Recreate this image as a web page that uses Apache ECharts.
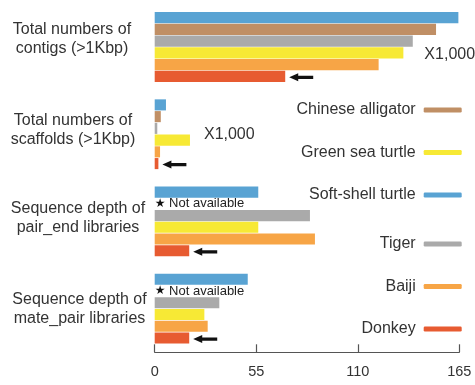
<!DOCTYPE html>
<html>
<head>
<meta charset="utf-8">
<script src="https://cdn.jsdelivr.net/npm/echarts@6/dist/echarts.min.js"></script>
<style>
  html, body { margin: 0; padding: 0; background: #ffffff; }
  #chart { width: 475px; height: 385px; }
</style>
</head>
<body>
<div id="chart"></div>
<script>
// Genome assembly statistics, top to bottom
const categories = [
  'Total numbers of\ncontigs (>1Kbp)',
  'Total numbers of\nscaffolds (>1Kbp)',
  'Sequence depth of\npair_end libraries',
  'Sequence depth of\nmate_pair libraries'
];

// Species, in the order the bars are stacked inside each group
const species = ['Soft-shell turtle', 'Chinese alligator', 'Tiger', 'Green sea turtle', 'Baiji', 'Donkey'];

// Values per species (counts in thousands for the first two rows, depth for the last two)
const softShellTurtle  = [164.5, 6.1, 56.1, 50.4];
const chineseAlligator = [152.4, 3.3, null, null];
const tiger            = [139.8, 1.4, 84.1, 35.0];
const greenSeaTurtle   = [134.7, 19.1, 56.1, 26.9];
const baiji            = [121.3, 2.9, 86.8, 28.7];
const donkey           = [70.7, 2.0, 18.7, 18.7];

const xTicks = [0, 55, 110, 165];
const legendUpper = ['Chinese alligator', 'Green sea turtle', 'Soft-shell turtle'];
const legendLower = ['Tiger', 'Baiji', 'Donkey'];
const scaleNote = 'X1,000';
const missingNote = 'Not available';

const colors = {
  'Soft-shell turtle': '#59a3d3',
  'Chinese alligator': '#c08f65',
  'Tiger': '#aaaaaa',
  'Green sea turtle': '#f7e935',
  'Baiji': '#f7a546',
  'Donkey': '#e75b31'
};

const seriesValues = [softShellTurtle, chineseAlligator, tiger, greenSeaTurtle, baiji, donkey];

// row titles: horizontal centre and vertical nudge relative to each band centre
const titlePlacement = [[72, -7.5], [73, -4.5], [78, -3], [79.5, 0.5]];

const font = 'Liberation Sans, Arial, sans-serif';

// left-pointing arrow used to flag the donkey bars
const arrowPath = 'path://M0,4 L9,0 L9,2.4 L24,2.4 L24,5.6 L9,5.6 L9,8 Z';

function buildData(name, values) {
  return values.map(function (v, i) {
    if (name === 'Chinese alligator' && v == null) {
      return {
        value: 0,
        label: {
          show: true,
          position: 'right',
          distance: 0,
          formatter: '{s|★} ' + missingNote,
          color: '#222',
          fontSize: 13,
          fontFamily: font,
          rich: { s: { fontSize: 12, color: '#111', fontFamily: 'DejaVu Sans' } }
        }
      };
    }
    if (name === 'Green sea turtle' && i < 2) {
      return {
        value: v,
        label: {
          show: true,
          position: 'right',
          distance: i === 0 ? 21 : 14,
          offset: i === 0 ? [0, 2] : [0, -6],
          formatter: scaleNote,
          color: '#333',
          fontSize: 16,
          fontFamily: font
        }
      };
    }
    return v;
  });
}

const series = species.map(function (name, k) {
  const s = {
    name: name,
    type: 'bar',
    barGap: '6%',
    barCategoryGap: '20%',
    itemStyle: { color: colors[name] },
    data: buildData(name, seriesValues[k])
  };
  if (name === 'Donkey') {
    s.markPoint = {
      silent: true,
      symbol: arrowPath,
      symbolSize: [24, 8],
      symbolOffset: [16, 1],
      itemStyle: { color: '#111' },
      label: { show: false },
      data: seriesValues[k].map(function (v, i) {
        return { coord: [v, categories[i]] };
      })
    };
  }
  return s;
});

const legendBase = {
  orient: 'vertical',
  right: 13.3,
  padding: 0,
  align: 'right',
  icon: 'roundRect',
  itemWidth: 38,
  itemHeight: 5,
  selectedMode: false,
  textStyle: { color: '#333', fontSize: 16, fontFamily: font, padding: [0, 3, 0, 0] }
};

const chart = echarts.init(document.getElementById('chart'), null, { renderer: 'canvas' });
chart.setOption({
  animation: false,
  backgroundColor: '#ffffff',
  textStyle: { fontFamily: font },
  legend: [
    Object.assign({}, legendBase, { top: 102, itemGap: 26.5, data: legendUpper }),
    Object.assign({}, legendBase, { top: 236, itemGap: 26.5, data: legendLower })
  ],
  grid: {
    left: 154.7,
    right: 15.7,
    top: 3.4,
    bottom: 32.7,
    containLabel: false,
    outerBoundsMode: 'none'
  },
  xAxis: {
    type: 'value',
    min: xTicks[0],
    max: xTicks[xTicks.length - 1],
    interval: xTicks[1] - xTicks[0],
    splitLine: { show: false },
    axisLine: { show: true, lineStyle: { color: '#555', width: 1.2 } },
    axisTick: { show: true, inside: true, length: 8, lineStyle: { color: '#555', width: 1.2 } },
    axisLabel: { color: '#333', fontSize: 14.5, margin: 12, fontFamily: font }
  },
  yAxis: {
    type: 'category',
    inverse: true,
    data: categories,
    axisLine: { show: false },
    axisTick: { show: false },
    axisLabel: { show: false }
  },
  series: series
});

// Row titles, centred line by line, anchored to each category band of the y axis
const titles = categories.map(function (c, i) {
  const yc = chart.convertToPixel({ yAxisIndex: 0 }, c);
  return {
    type: 'text',
    x: titlePlacement[i][0],
    y: yc + titlePlacement[i][1],
    silent: true,
    style: {
      text: c,
      align: 'center',
      verticalAlign: 'middle',
      fill: '#333',
      font: '16px ' + font,
      lineHeight: 19
    }
  };
});
chart.setOption({ graphic: titles });
</script>
</body>
</html>
